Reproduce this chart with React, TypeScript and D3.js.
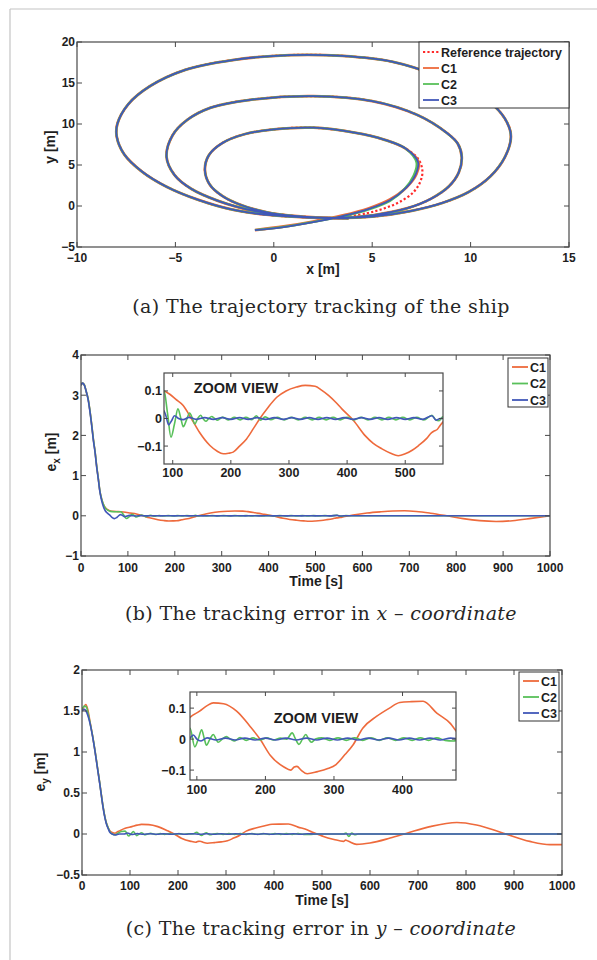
import React from 'react';
import * as d3 from 'd3';

type Pt = [number, number];

// ---------- (a) trajectory, x / y in metres ----------
const refPath: Pt[] = [
  [3.4, -1.4], [4.7, -0.9], [5.6, -0.3], [6.4, 0.5], [7.1, 1.7], [7.45, 3.0], [7.55, 4.3], [7.35, 5.7],
  [6.7, 7.0], [5.6, 8.1], [4.1, 8.95], [2.0, 9.55], [0.0, 9.35], [-1.5, 8.75], [-2.6, 7.7], [-3.3, 6.2],
  [-3.5, 4.4], [-3.25, 2.6], [-2.6, 1.2], [-1.7, 0.15], [-0.4, -0.75], [1.2, -1.25], [3.2, -1.45],
  [5.1, -1.1], [6.75, -0.3], [8.0, 0.9], [8.9, 2.4], [9.4, 4.1], [9.55, 6.0], [9.35, 7.6], [8.8, 8.9],
  [7.3, 11.1], [5.0, 12.8], [2.0, 13.4], [-1.2, 12.95], [-3.2, 12.0], [-4.4, 10.5], [-5.15, 8.6],
  [-5.45, 6.0], [-5.05, 3.8], [-4.2, 2.1], [-2.8, 0.6], [-1.0, -0.6], [0.9, -1.25], [2.8, -1.45],
  [5.0, -1.3], [7.0, -0.6], [8.6, 0.4], [9.9, 1.7], [11.0, 3.6], [11.75, 6.0], [12.05, 8.45],
  [11.85, 10.2], [11.2, 12.2], [10.1, 13.9], [8.4, 15.8], [6.0, 17.6], [3.5, 18.3], [0.8, 18.4],
  [-2.1, 17.8], [-4.5, 16.6], [-6.3, 14.6], [-7.4, 12.4], [-7.95, 10.0], [-7.98, 8.45], [-7.6, 6.3],
  [-6.7, 4.2], [-5.45, 2.35], [-3.9, 0.8], [-2.1, -0.45], [0.0, -1.15], [2.0, -1.4], [3.8, -1.5],
];
// where the ships join the reference (index into refPath)
const mergeAt = 8;
const c1Start: Pt[] = [[-0.96, -2.93], [0.5, -2.5], [2.0, -1.9], [3.5, -1.15], [4.8, -0.3], [5.9, 0.8], [6.75, 2.3], [7.25, 3.9], [7.35, 5.4]];
const c2Start: Pt[] = [[-0.96, -2.93], [0.5, -2.55], [2.0, -1.95], [3.5, -1.25], [4.8, -0.45], [5.9, 0.6], [6.65, 2.1], [7.1, 3.7], [7.25, 5.3]];
const c3Start: Pt[] = [[-0.96, -2.93], [0.5, -2.57], [2.0, -1.98], [3.5, -1.22], [4.8, -0.38], [5.9, 0.7], [6.72, 2.2], [7.2, 3.8], [7.33, 5.35]];
const trajTicksX = [-10, -5, 0, 5, 10, 15];
const trajTicksY = [-5, 0, 5, 10, 15, 20];

// ---------- (b) e_x [m] vs time [s] ----------
const exC1: Pt[] = [
  [0, 3.25], [3, 3.3], [7, 3.26], [11, 3.1], [15, 2.92], [19, 2.62], [23, 2.25], [27, 1.85], [30, 1.6],
  [33, 1.28], [37, 0.92], [40, 0.64], [44, 0.42], [48, 0.28], [52, 0.2], [57, 0.15], [63, 0.12], [70, 0.11],
  [78, 0.105], [85, 0.1], [95, 0.088], [105, 0.07], [118, 0.047], [132, 0.0], [146, -0.05], [164, -0.098],
  [176, -0.118], [187, -0.128], [196, -0.126], [204, -0.122], [215, -0.1], [227, -0.074], [239, -0.036],
  [250, 0.0], [264, 0.04], [279, 0.077], [295, 0.1], [313, 0.114], [328, 0.12], [345, 0.117], [356, 0.103],
  [368, 0.084], [380, 0.06], [391, 0.035], [411, -0.007], [431, -0.062], [445, -0.09], [460, -0.11],
  [475, -0.126], [488, -0.135], [500, -0.128], [512, -0.115], [523, -0.098], [537, -0.072], [545, -0.052],
  [550, -0.045], [555, -0.04], [560, -0.025], [566, -0.01], [580, 0.02], [610, 0.07], [640, 0.1],
  [665, 0.118], [690, 0.124], [715, 0.108], [745, 0.065], [780, 0.0], [815, -0.07], [850, -0.12],
  [885, -0.14], [920, -0.122], [960, -0.065], [1000, 0.0],
];
const exC2: Pt[] = [
  [0, 3.25], [3, 3.3], [7, 3.26], [11, 3.1], [15, 2.92], [19, 2.62], [23, 2.25], [27, 1.85], [30, 1.6],
  [33, 1.28], [37, 0.92], [40, 0.64], [44, 0.42], [48, 0.28], [52, 0.19], [57, 0.14], [63, 0.11], [70, 0.1],
  [78, 0.1], [85, 0.1], [91, 0.02], [97, -0.068], [103, -0.02], [109, 0.035], [114, 0.0], [118, -0.03],
  [124, -0.004], [129, 0.02], [134, 0.0], [138, -0.02], [143, 0.0], [148, 0.012], [152, 0.0], [157, -0.01],
  [162, 0.0], [167, 0.007], [172, 0.0], [177, -0.006], [186, 0.005], [196, -0.005], [206, 0.004],
  [216, -0.005], [226, 0.004], [236, -0.004], [244, 0.01], [251, -0.006], [259, 0.006], [269, -0.004],
  [280, 0.004], [292, -0.005], [304, 0.004], [316, -0.005], [328, 0.004], [340, -0.005], [352, 0.004],
  [364, -0.005], [376, 0.004], [388, -0.005], [400, 0.004], [412, -0.005], [424, 0.004], [436, -0.005],
  [448, 0.004], [460, -0.005], [472, 0.004], [484, -0.005], [496, 0.004], [508, -0.005], [520, 0.004],
  [532, -0.005], [546, 0.012], [552, -0.004], [558, -0.008], [565, 0.006], [580, 0.0], [1000, 0.0],
];
const exC3: Pt[] = [
  [0, 3.25], [3, 3.3], [7, 3.25], [11, 3.1], [15, 2.9], [19, 2.6], [23, 2.22], [27, 1.82], [30, 1.57],
  [33, 1.25], [37, 0.9], [40, 0.62], [44, 0.38], [48, 0.22], [52, 0.12], [57, 0.06], [62, 0.01],
  [66, -0.04], [71, -0.07], [77, -0.035], [84, 0.03], [88, 0.012], [93, -0.023], [98, -0.008], [103, 0.01],
  [110, 0.0], [118, -0.004], [128, 0.004], [140, -0.003], [155, 0.003], [170, -0.003], [185, 0.003],
  [200, -0.003], [215, 0.003], [230, -0.003], [245, 0.003], [260, -0.003], [275, 0.003], [290, -0.003],
  [305, 0.003], [320, -0.003], [335, 0.003], [350, -0.003], [365, 0.003], [380, -0.003], [395, 0.003],
  [410, -0.003], [425, 0.003], [440, -0.003], [455, 0.003], [470, -0.003], [485, 0.003], [500, -0.003],
  [515, 0.003], [530, -0.003], [546, 0.01], [553, -0.006], [560, 0.0], [580, 0.0], [1000, 0.0],
];

// ---------- (c) e_y [m] vs time [s] ----------
const eyC1: Pt[] = [
  [0, 1.5], [4, 1.55], [8, 1.58], [12, 1.52], [17, 1.36], [22, 1.2], [27, 1.02], [32, 0.82], [37, 0.62],
  [41, 0.45], [44, 0.33], [48, 0.2], [51, 0.13], [55, 0.07], [58, 0.04], [63, 0.02], [69, 0.01], [75, 0.03],
  [82, 0.05], [90, 0.07], [104, 0.09], [115, 0.108], [124, 0.117], [139, 0.114], [158, 0.09], [178, 0.04],
  [193, -0.003], [207, -0.052], [227, -0.09], [237, -0.1], [242, -0.09], [246, -0.088], [252, -0.1],
  [261, -0.112], [276, -0.105], [290, -0.096], [303, -0.082], [316, -0.05], [328, -0.018], [342, 0.035],
  [362, 0.073], [381, 0.1], [396, 0.118], [413, 0.121], [430, 0.122], [450, 0.084], [470, 0.05],
  [479, 0.024], [490, 0.0], [503, -0.03], [525, -0.066], [545, -0.09], [549, -0.075], [554, -0.085],
  [572, -0.126], [600, -0.11], [642, -0.05], [677, 0.01], [725, 0.09], [781, 0.14], [822, 0.11],
  [878, 0.01], [933, -0.09], [975, -0.13], [1000, -0.13],
];
const eyC2: Pt[] = [
  [0, 1.52], [5, 1.56], [9, 1.55], [13, 1.46], [17, 1.35], [22, 1.2], [27, 1.02], [32, 0.82], [37, 0.62],
  [41, 0.45], [44, 0.33], [48, 0.2], [51, 0.13], [55, 0.07], [58, 0.03], [63, 0.0], [69, -0.01], [75, 0.01],
  [82, 0.03], [90, 0.035], [97, -0.025], [102, 0.0], [107, 0.03], [111, 0.0], [114, -0.02], [119, 0.0],
  [124, 0.015], [128, 0.0], [131, -0.01], [137, 0.0], [143, 0.008], [149, 0.0], [155, -0.006], [163, 0.005],
  [172, -0.004], [182, 0.004], [192, -0.003], [202, 0.004], [212, -0.003], [222, 0.003], [231, 0.0],
  [239, 0.02], [244, 0.0], [249, -0.017], [254, 0.0], [259, 0.015], [263, 0.0], [267, -0.01], [273, 0.0],
  [282, 0.004], [294, -0.004], [306, 0.004], [318, -0.004], [330, 0.004], [342, -0.004], [354, 0.004],
  [366, -0.004], [378, 0.004], [390, -0.004], [402, 0.004], [414, -0.004], [426, 0.004], [438, -0.004],
  [450, 0.004], [462, -0.004], [474, -0.006], [490, 0.0], [545, 0.0], [550, 0.012], [556, -0.03],
  [562, 0.012], [568, -0.01], [575, 0.0], [1000, 0.0],
];
const eyC3: Pt[] = [
  [0, 1.5], [5, 1.52], [10, 1.48], [14, 1.41], [17, 1.34], [22, 1.19], [27, 1.01], [32, 0.81], [37, 0.61],
  [41, 0.44], [44, 0.32], [48, 0.19], [51, 0.12], [55, 0.06], [58, 0.02], [63, 0.0], [69, -0.012],
  [78, 0.0], [88, 0.0], [95, 0.013], [100, 0.0], [106, -0.006], [115, 0.004], [128, -0.003], [142, 0.003],
  [156, -0.003], [170, 0.003], [185, -0.003], [200, 0.003], [215, -0.003], [230, 0.003], [245, -0.003],
  [260, 0.003], [275, -0.003], [290, 0.003], [305, -0.003], [320, 0.003], [335, -0.003], [350, 0.003],
  [365, -0.003], [380, 0.003], [395, -0.003], [410, 0.003], [425, -0.003], [440, 0.003], [455, -0.003],
  [470, 0.003], [485, 0.0], [1000, 0.0],
];

const timeTicks = [0, 100, 200, 300, 400, 500, 600, 700, 800, 900, 1000];
const exTicks = [-1, 0, 1, 2, 3, 4];
const eyTicks = [-0.5, 0, 0.5, 1, 1.5, 2];
const exZoomTicks = [100, 200, 300, 400, 500];
const eyZoomTicks = [100, 200, 300, 400];
const zoomValTicks = [-0.1, 0, 0.1];
const ctrlNames = ['C1', 'C2', 'C3'];
const ctrlColors = ['#ee6a3c', '#58c05a', '#4157b8'];
const refColor = '#ff2a2a';

const SANS = '"Liberation Sans", Arial, sans-serif';
const SERIF = '"DejaVu Serif", serif';
const INK = '#1e1e1e';
const AXIS = '#484848';

const fmt = (d: number) => (d < 0 ? '\u2212' + Math.abs(d) : String(d));

function Axes({ x, y, xTicks, yTicks, fs = 12, tick = 5, xDy = 15, yDx = 3 }: any) {
  const [x0, x1] = x.range();
  const [y0, y1] = y.range();
  return (
    <g>
      <rect x={x0} y={y1} width={x1 - x0} height={y0 - y1} fill="none" stroke={AXIS} strokeWidth={1.2} />
      {xTicks.map((t: number) => (
        <g key={'x' + t}>
          <line x1={x(t)} x2={x(t)} y1={y0} y2={y0 - tick} stroke={AXIS} />
          <line x1={x(t)} x2={x(t)} y1={y1} y2={y1 + tick} stroke={AXIS} />
          <text x={x(t)} y={y0 + xDy} textAnchor="middle" fontSize={fs} fontWeight="bold" fontFamily={SANS} fill={INK}>{fmt(t)}</text>
        </g>
      ))}
      {yTicks.map((t: number) => (
        <g key={'y' + t}>
          <line x1={x0} x2={x0 + tick} y1={y(t)} y2={y(t)} stroke={AXIS} />
          <line x1={x1} x2={x1 - tick} y1={y(t)} y2={y(t)} stroke={AXIS} />
          <text x={x0 - yDx} y={y(t) + fs * 0.36} textAnchor="end" fontSize={fs} fontWeight="bold" fontFamily={SANS} fill={INK}>{fmt(t)}</text>
        </g>
      ))}
    </g>
  );
}

function Legend({ left, top, width, height, first, step, items }: any) {
  return (
    <g>
      <rect x={left} y={top} width={width} height={height} fill="#fff" stroke="#333" strokeWidth={1} />
      {items.map((it: any, i: number) => {
        const yy = top + first + i * step;
        return (
          <g key={it.label}>
            <line x1={left + 4} x2={left + 20} y1={yy} y2={yy} stroke={it.color} strokeWidth={it.dash ? 2.2 : 1.8} strokeDasharray={it.dash ? '2.2 2.2' : undefined} />
            <text x={left + 22} y={yy + 4.5} fontSize={12.5} fontWeight="bold" fontFamily={SANS} fill={INK}>{it.label}</text>
          </g>
        );
      })}
    </g>
  );
}

function Series({ x, y, data, clip }: any) {
  const line = d3.line<Pt>().x(d => x(d[0])).y(d => y(d[1])).curve(d3.curveMonotoneX);
  return (
    <g clipPath={`url(#${clip})`}>
      {data.map((s: Pt[], i: number) => (
        <path key={i} d={line(s) || ''} fill="none" stroke={ctrlColors[i]} strokeWidth={1.6} />
      ))}
    </g>
  );
}

function ClipRect({ id, x, y }: any) {
  const [x0, x1] = x.range();
  const [y0, y1] = y.range();
  return (
    <clipPath id={id}>
      <rect x={x0} y={y1} width={x1 - x0} height={y0 - y1} />
    </clipPath>
  );
}

function Caption({ y, children }: any) {
  return (
    <text x={321} y={y} textAnchor="middle" fontSize={19} letterSpacing={0.35} fontFamily={SERIF} fill="#262626">{children}</text>
  );
}

export default function App() {
  // (a)
  const ax = d3.scaleLinear().domain([-10, 15]).range([77, 569]);
  const ay = d3.scaleLinear().domain([-5, 20]).range([247, 42]);
  const traj = d3.line<Pt>().x(d => ax(d[0])).y(d => ay(d[1])).curve(d3.curveCatmullRom.alpha(0.5));
  const tail = refPath.slice(mergeAt);
  const shipPaths = [c1Start.concat(tail), c2Start.concat(tail), c3Start.concat(tail)];
  const trajWidths = [2.8, 2.2, 1.8];

  // (b)
  const bx = d3.scaleLinear().domain([0, 1000]).range([81, 550]);
  const by = d3.scaleLinear().domain([-1, 4]).range([556, 355]);
  const bzx = d3.scaleLinear().domain([85, 565]).range([164, 443]);
  const bzy = d3.scaleLinear().domain([-0.165, 0.165]).range([464, 373]);

  // (c)
  const cx = d3.scaleLinear().domain([0, 1000]).range([82, 562]);
  const cy = d3.scaleLinear().domain([-0.5, 2]).range([875, 670]);
  const czx = d3.scaleLinear().domain([90, 478]).range([190, 456]);
  const czy = d3.scaleLinear().domain([-0.132, 0.152]).range([780, 692]);

  const exData = [exC1, exC2, exC3];
  const eyData = [eyC1, eyC2, eyC3];
  const ctrlItems = ctrlNames.map((n, i) => ({ label: n, color: ctrlColors[i] }));

  return (
    <svg width={597} height={960} style={{ position: 'absolute', left: 0, top: 0, background: '#fff' }}>
      <defs>
        <ClipRect id="clipA" x={ax} y={ay} />
        <ClipRect id="clipB" x={bx} y={by} />
        <ClipRect id="clipBz" x={bzx} y={bzy} />
        <ClipRect id="clipC" x={cx} y={cy} />
        <ClipRect id="clipCz" x={czx} y={czy} />
      </defs>
      <rect x={0} y={0} width={597} height={960} fill="#fff" />
      <line x1={10} x2={597} y1={9} y2={9} stroke="#c4c4c4" strokeWidth={1.2} />
      <line x1={10} x2={10} y1={9} y2={960} stroke="#c4c4c4" strokeWidth={1.2} />

      {/* (a) trajectory */}
      <g clipPath="url(#clipA)">
        <path d={traj(refPath) || ''} fill="none" stroke={refColor} strokeWidth={2.2} strokeDasharray="2.2 2.2" />
        {shipPaths.map((p, i) => (
          <path key={i} d={traj(p) || ''} fill="none" stroke={ctrlColors[i]} strokeWidth={trajWidths[i]} />
        ))}
      </g>
      <Axes x={ax} y={ay} xTicks={trajTicksX} yTicks={trajTicksY} xDy={15} yDx={2} />
      <Legend left={419} top={42} width={150} height={66} first={10} step={16}
        items={[{ label: 'Reference trajectory', color: refColor, dash: true }, ...ctrlItems]} />
      <text x={323} y={274} textAnchor="middle" fontSize={14} fontWeight="bold" fontFamily={SANS} fill={INK}>x [m]</text>
      <text transform="translate(55,147) rotate(-90)" textAnchor="middle" fontSize={14} fontWeight="bold" fontFamily={SANS} fill={INK}>y [m]</text>
      <Caption y={313}>(a) The trajectory tracking of the ship</Caption>

      {/* (b) x error */}
      <Series x={bx} y={by} data={exData} clip="clipB" />
      <Axes x={bx} y={by} xTicks={timeTicks} yTicks={exTicks} xDy={15.5} yDx={2} />
      <Legend left={508} top={358} width={40} height={49} first={9} step={16.5} items={ctrlItems} />
      <rect x={164} y={373} width={279} height={91} fill="#fff" />
      <Series x={bzx} y={bzy} data={exData} clip="clipBz" />
      <Axes x={bzx} y={bzy} xTicks={exZoomTicks} yTicks={zoomValTicks} fs={12.5} tick={4} xDy={12.5} yDx={2} />
      <text x={236} y={393} textAnchor="middle" fontSize={14.5} fontWeight="bold" fontFamily={SANS} fill={INK}>ZOOM VIEW</text>
      <text x={316} y={586} textAnchor="middle" fontSize={14} fontWeight="bold" fontFamily={SANS} fill={INK}>Time [s]</text>
      <text transform="translate(56,452) rotate(-90)" textAnchor="middle" fontSize={14} fontWeight="bold" fontFamily={SANS} fill={INK}>
        e<tspan dy={4} fontSize={10}>x</tspan><tspan dy={-4}> [m]</tspan>
      </text>
      <Caption y={620}>
        (b) The tracking error in <tspan fontStyle="italic">x</tspan> – <tspan fontStyle="italic">coordinate</tspan>
      </Caption>

      {/* (c) y error */}
      <Series x={cx} y={cy} data={eyData} clip="clipC" />
      <Axes x={cx} y={cy} xTicks={timeTicks} yTicks={eyTicks} xDy={15} yDx={2} />
      <Legend left={519} top={672} width={40} height={49} first={9} step={16} items={ctrlItems} />
      <rect x={190} y={692} width={266} height={88} fill="#fff" />
      <Series x={czx} y={czy} data={eyData} clip="clipCz" />
      <Axes x={czx} y={czy} xTicks={eyZoomTicks} yTicks={zoomValTicks} fs={12.5} tick={4} xDy={14} yDx={4} />
      <text x={316} y={723} textAnchor="middle" fontSize={14.5} fontWeight="bold" fontFamily={SANS} fill={INK}>ZOOM VIEW</text>
      <text x={322} y={905} textAnchor="middle" fontSize={14} fontWeight="bold" fontFamily={SANS} fill={INK}>Time [s]</text>
      <text transform="translate(45,772) rotate(-90)" textAnchor="middle" fontSize={14} fontWeight="bold" fontFamily={SANS} fill={INK}>
        e<tspan dy={4} fontSize={10}>y</tspan><tspan dy={-4}> [m]</tspan>
      </text>
      <Caption y={935}>
        (c) The tracking error in <tspan fontStyle="italic">y</tspan> – <tspan fontStyle="italic">coordinate</tspan>
      </Caption>
    </svg>
  );
}
